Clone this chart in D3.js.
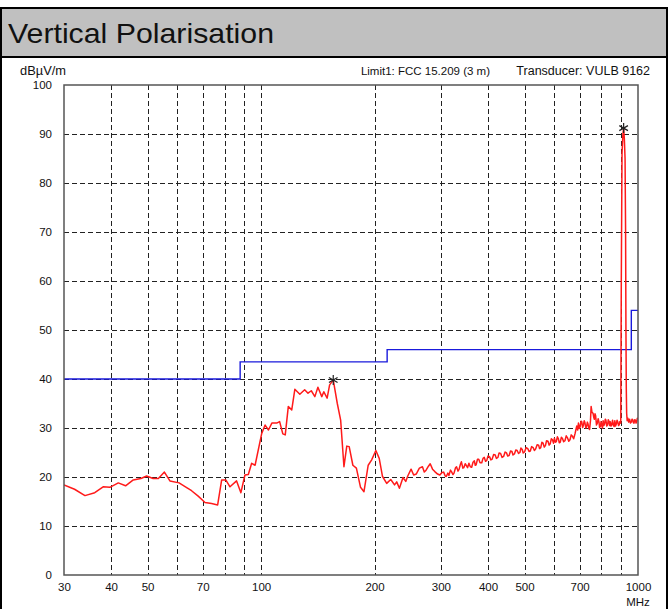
<!DOCTYPE html>
<html>
<head>
<meta charset="utf-8">
<script src="https://cdn.jsdelivr.net/npm/d3@7/dist/d3.min.js"></script>
<style>
  html, body { margin: 0; padding: 0; background: #fff; }
  svg { display: block; font-family: "Liberation Sans", Arial, sans-serif; }
</style>
</head>
<body>
<svg id="chart" width="671" height="609"></svg>
<script>
// Field strength scan, vertical polarisation (30 MHz – 1 GHz)
const title = "Vertical Polarisation";
const yUnit = "dBµV/m";
const xUnit = "MHz";
const limitLabel = "Limit1: FCC 15.209 (3 m)";
const transducerLabel = "Transducer: VULB 9162";

const yTicks = [0, 10, 20, 30, 40, 50, 60, 70, 80, 90, 100];
const xGrid = [40, 50, 60, 70, 80, 90, 100, 200, 300, 400, 500, 600, 700, 800, 900];
const xTickLabels = [30, 40, 50, 70, 100, 200, 300, 400, 500, 700, 1000];

// FCC 15.209 limit at 3 m (stepped)
const limitFreq  = [30, 88, 88, 216, 216, 960, 960, 1000];
const limitLevel = [40, 40, 43.5, 43.5, 46, 46, 54, 54];

// Measured spectrum
const scanFreq = [
  30, 32, 34.1, 36.2, 38.1, 39.7, 41.8, 43.7, 45.8, 48, 49.7, 51.7, 53.4, 55.4, 57.3, 60.6, 63, 65.4, 68.1, 71,
  73.9, 76.7, 78.6, 80.6, 82.7, 86.1, 88.4, 90.6, 92.5, 94.4, 96.4, 100.4, 102.5, 104.6, 106.8, 110, 112, 114.2, 115.9, 118.1,
  120.6, 122.9, 126.7, 130.5, 133.2, 135.9, 138.9, 141.5, 144.9, 146.7, 149.7, 152, 155.4, 159.3, 162.6, 165.9, 168.8, 171.3, 175.2, 179,
  183.6, 187.5, 192.4, 196.5, 201.6, 205.8, 210, 215.4, 220.8, 226, 229, 232.8, 238, 242, 245, 250, 254, 258, 263, 268,
  271, 274, 278, 281, 285, 289, 294, 298, 302, 305, 308, 310, 313, 315, 318, 320, 323, 325, 328, 330,
  333, 335, 338, 340, 343, 345, 348, 350, 353, 356, 359, 362, 365, 368, 370, 372, 375, 378, 381, 385,
  388, 391, 394, 397, 400, 404, 407, 410, 414, 418, 421, 425, 428, 432, 436, 440, 444, 448, 451, 455,
  459, 463, 466, 470, 474, 478, 482, 486, 489, 493, 496, 500, 505, 510, 514, 518, 522, 527, 531, 535,
  540, 545, 548, 552, 556, 560, 564, 568, 572, 577, 581, 585, 589, 593, 597, 600, 604, 607, 611, 615,
  618, 622, 626, 630, 635, 640, 645, 650, 655, 660, 665, 670, 675, 681, 685, 688, 692, 695, 699, 702,
  706, 709, 713, 716, 720, 723, 727, 730, 734, 737, 741, 744, 748, 751, 755, 760, 763, 766, 769, 772,
  776, 780, 784, 788, 791, 795, 798, 801, 805, 808, 812, 815, 819, 822, 826, 830, 834, 837, 841, 844,
  848, 852, 856, 860, 864, 868, 872, 876, 880, 884, 888, 891, 895, 900, 903, 907, 912, 916, 920, 924,
  927, 929, 931, 933, 936, 940, 945, 950, 955, 960, 964, 968, 972, 976, 980, 984, 988, 992, 996, 1000
];
const scanLevel = [
  18.4, 17.5, 16.2, 16.8, 18.0, 17.9, 18.8, 18.2, 19.4, 19.7, 20.2, 19.7, 19.7, 21.0, 19.2, 18.8, 18.0, 17.2, 16.1, 14.8,
  14.6, 14.3, 19.4, 19.4, 18.0, 19.2, 16.8, 20.4, 20.5, 22.8, 22.4, 28.9, 30.6, 29.6, 31.0, 31.0, 31.3, 28.8, 28.6, 34.4,
  33.7, 37.9, 36.9, 37.8, 37.1, 37.6, 36.4, 38.3, 36.4, 37.4, 36.1, 38.8, 39.8, 35.0, 31.6, 22.1, 26.3, 26.2, 22.4, 21.8,
  17.9, 17.0, 22.4, 23.5, 25.4, 23.8, 20.1, 18.7, 19.5, 18.4, 19.0, 17.7, 19.9, 19.1, 20.2, 21.6, 20.4, 20.6, 21.8, 22.1,
  21.0, 21.4, 22.2, 22.7, 21.6, 21.1, 20.6, 20.4, 20.9, 21.0, 20.2, 20.1, 20.8, 20.3, 21.4, 21.1, 20.5, 20.8, 21.9, 22.1,
  21.2, 21.5, 22.6, 23.1, 21.8, 21.9, 22.7, 22.4, 21.9, 22.8, 22.1, 22.0, 23.0, 23.3, 22.4, 22.5, 23.6, 23.6, 22.9, 22.9,
  23.8, 24.0, 23.2, 23.4, 24.3, 24.1, 23.5, 23.6, 24.6, 24.5, 23.8, 24.0, 24.9, 24.8, 24.0, 24.2, 25.1, 24.9, 24.3, 24.4,
  25.3, 25.2, 24.5, 24.7, 25.5, 25.4, 24.8, 25.0, 25.9, 25.6, 24.9, 25.1, 26.0, 25.8, 25.2, 25.3, 26.2, 26.0, 25.4, 25.7,
  26.6, 26.5, 25.8, 26.0, 27.1, 26.9, 26.1, 26.4, 27.4, 27.3, 26.5, 26.8, 27.8, 27.6, 26.9, 27.9, 27.1, 27.2, 28.2, 27.8,
  27.0, 27.1, 28.1, 27.9, 27.2, 27.4, 28.4, 28.0, 27.3, 27.6, 28.6, 28.3, 27.8, 28.9, 29.8, 30.4, 29.6, 31.0, 29.9, 30.2,
  31.4, 31.3, 30.1, 30.5, 31.5, 31.1, 30.0, 30.2, 31.2, 30.8, 29.9, 29.7, 31.5, 34.4, 33.2, 33.0, 32.2, 31.8, 32.9, 32.5,
  30.6, 31.0, 31.9, 31.2, 30.1, 30.4, 31.3, 30.6, 30.0, 31.5, 30.5, 30.8, 31.8, 31.6, 30.4, 30.6, 31.7, 31.4, 30.5, 31.3,
  30.4, 30.7, 31.6, 30.6, 30.3, 31.5, 30.4, 30.8, 31.6, 31.2, 30.5, 30.6, 31.3, 31.0, 60.0, 86.0, 90.0, 91.2, 89.0, 85.0,
  70.0, 50.0, 38.0, 33.0, 31.5, 32.0, 31.2, 31.8, 31.0, 31.2, 31.8, 31.7, 31.1, 31.0, 31.7, 31.6, 31.0, 31.3, 32.0, 31.8
];

// Peak markers
const peakFreq  = [155.4, 916];
const peakLevel = [39.8, 91.2];

const svg = d3.select("#chart");
const W = 671, H = 609;
const plot = { left: 64, right: 638, top: 85, bottom: 575 };

// outer frame with grey title band
svg.append("rect").attr("x", 1).attr("y", 8).attr("width", 666).attr("height", H).attr("fill", "#fff")
  .attr("stroke", "#000").attr("stroke-width", 2);
svg.append("rect").attr("x", 1).attr("y", 8).attr("width", 666).attr("height", 49).attr("fill", "#c0c0c0")
  .attr("stroke", "#000").attr("stroke-width", 2);
svg.append("text").attr("x", 8).attr("y", 43).attr("font-size", 28).attr("fill", "#111")
  .attr("textLength", 266).attr("lengthAdjust", "spacingAndGlyphs").text(title);

const x = d3.scaleLog().domain([30, 1000]).range([plot.left, plot.right]);
const y = d3.scaleLinear().domain([0, 100]).range([plot.bottom, plot.top]);

// dashed grid
const grid = svg.append("g").attr("stroke", "#222").attr("stroke-width", 1).attr("stroke-dasharray", "5,3");
grid.selectAll("line.h").data(yTicks.filter(d => d > 0 && d < 100)).join("line")
  .attr("x1", plot.left).attr("x2", plot.right)
  .attr("y1", d => Math.round(y(d)) + 0.5).attr("y2", d => Math.round(y(d)) + 0.5);
grid.selectAll("line.v").data(xGrid).join("line")
  .attr("y1", plot.top).attr("y2", plot.bottom)
  .attr("x1", d => Math.round(x(d)) + 0.5).attr("x2", d => Math.round(x(d)) + 0.5);

// axes (labels only; frame drawn separately)
const yAxis = d3.axisLeft(y).tickValues(yTicks).tickSize(0).tickPadding(12);
const gy = svg.append("g").attr("transform", `translate(${plot.left},0)`).call(yAxis);
gy.select(".domain").remove();
gy.selectAll("text").attr("font-size", 11.5).attr("fill", "#111").attr("font-family", "Liberation Sans, Arial, sans-serif");

const xAxis = d3.axisBottom(x).tickValues(xTickLabels).tickFormat(d3.format("d")).tickSize(0).tickPadding(8);
const gx = svg.append("g").attr("transform", `translate(0,${plot.bottom})`).call(xAxis);
gx.select(".domain").remove();
gx.selectAll("text").attr("font-size", 11.5).attr("fill", "#111").attr("font-family", "Liberation Sans, Arial, sans-serif");

svg.append("text").attr("x", plot.right).attr("y", 606).attr("text-anchor", "middle")
  .attr("font-size", 11.5).attr("fill", "#111").text(xUnit);
svg.append("text").attr("x", 20).attr("y", 75).attr("font-size", 12).attr("fill", "#111")
  .attr("textLength", 46).attr("lengthAdjust", "spacingAndGlyphs").text(yUnit);
svg.append("text").attr("x", 490).attr("y", 75).attr("text-anchor", "end").attr("font-size", 11.5).attr("fill", "#111")
  .text(limitLabel);
svg.append("text").attr("x", 650).attr("y", 75).attr("text-anchor", "end").attr("font-size", 12.5).attr("fill", "#111")
  .text(transducerLabel);

svg.append("clipPath").attr("id", "plotclip").append("rect")
  .attr("x", plot.left).attr("y", plot.top).attr("width", plot.right - plot.left).attr("height", plot.bottom - plot.top);

// limit line
const limitData = limitFreq.map((f, i) => [f, limitLevel[i]]);
svg.append("path").datum(limitData)
  .attr("fill", "none").attr("stroke", "#1a1adc").attr("stroke-width", 1.4)
  .attr("d", d3.line().x(d => x(d[0])).y(d => y(d[1])));

// measured trace
const scanData = scanFreq.map((f, i) => [f, scanLevel[i]]);
svg.append("path").datum(scanData).attr("clip-path", "url(#plotclip)")
  .attr("fill", "none").attr("stroke", "#ff1a1a").attr("stroke-width", 1.5).attr("stroke-linejoin", "round")
  .attr("d", d3.line().x(d => x(d[0])).y(d => y(d[1])));

// plot frame
svg.append("rect").attr("x", plot.left).attr("y", plot.top)
  .attr("width", plot.right - plot.left).attr("height", plot.bottom - plot.top)
  .attr("fill", "none").attr("stroke", "#555").attr("stroke-width", 1.5);

// peak markers
const star = d3.symbol().type(d3.symbolAsterisk || d3.symbolCross).size(70);
svg.selectAll("path.peak").data(peakFreq).join("path")
  .attr("transform", (d, i) => `translate(${x(d)},${y(peakLevel[i])})`)
  .attr("d", star).attr("fill", "none").attr("stroke", "#222").attr("stroke-width", 1.2);
</script>
</body>
</html>
